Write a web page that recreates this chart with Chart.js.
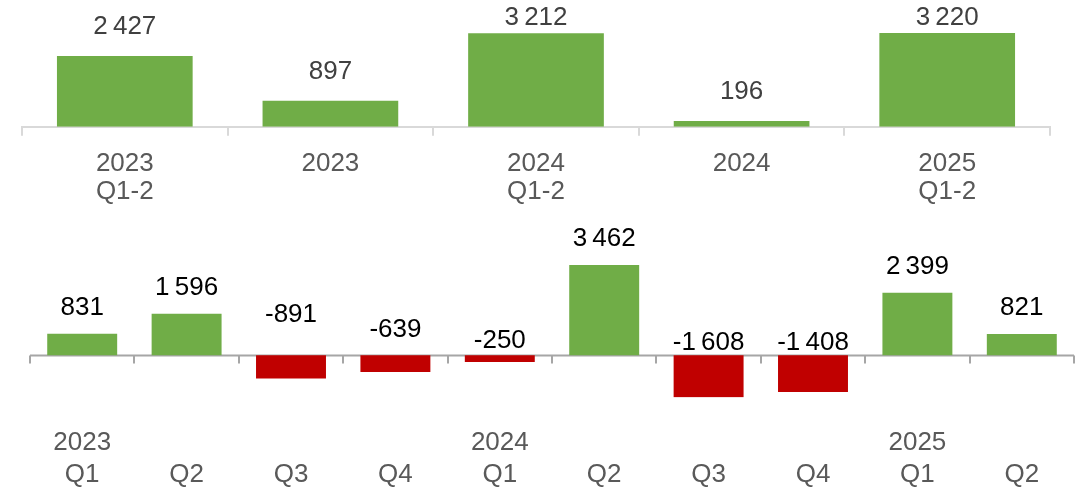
<!DOCTYPE html>
<html><head><meta charset="utf-8">
<script src="https://cdn.jsdelivr.net/npm/chart.js@4/dist/chart.umd.min.js"></script>
<style>
html,body{margin:0;padding:0;background:#fff;overflow:hidden;width:1079px;height:489px;}
#w1{position:absolute;left:0;top:0;width:1079px;height:220px;}
#w2{position:absolute;left:0;top:215px;width:1079px;height:297px;}
</style></head><body>
<div id="w1"><canvas id="c1"></canvas></div>
<div id="w2"><canvas id="c2"></canvas></div>
<script>
// ---- data ----
const topCategories = [["2023","Q1-2"],["2023"],["2024","Q1-2"],["2024"],["2025","Q1-2"]];
const topValues = [2427, 897, 3212, 196, 3220];
const qCategories = [["2023","Q1"],["","Q2"],["","Q3"],["","Q4"],["2024","Q1"],["","Q2"],["","Q3"],["","Q4"],["2025","Q1"],["","Q2"]];
const qValues = [831, 1596, -891, -639, -250, 3462, -1608, -1408, 2399, 821];

// ---- style ----
const GREEN = '#70AD47', RED = '#C00000';
const FONT = "'Liberation Sans', Arial, sans-serif";
const negLabelOffsets = [0,0,41,26,15,0,13,13,0,0];

function fmt(v){
  const s = Math.abs(v).toString().replace(/\B(?=(\d{3})+(?!\d))/g, '\u2009');
  return (v<0?'-':'') + s;
}

const labelPlugin = {
  id:'vals',
  afterDatasetsDraw(chart, args, opts){
    const ctx = chart.ctx;
    const meta = chart.getDatasetMeta(0);
    const ys = chart.scales.y;
    const zero = ys.getPixelForValue(0);
    ctx.save();
    ctx.font = '26px ' + FONT;
    ctx.fillStyle = opts.color;
    ctx.textAlign = 'center';
    ctx.textBaseline = 'middle';
    meta.data.forEach((bar, i) => {
      const v = chart.data.datasets[0].data[i];
      let y;
      if (v >= 0) y = Math.max(bar.y - opts.gap, opts.minY);
      else y = zero - opts.negOffsets[i];
      ctx.fillText(fmt(v), bar.x, y);
    });
    ctx.restore();
  }
};

const zeroAxisPlugin = {
  id:'zeroAxis',
  beforeDatasetsDraw(chart, args, opts){
    if (!opts.enabled) return;
    const ctx = chart.ctx, xs = chart.scales.x, ys = chart.scales.y;
    const zero = Math.round(ys.getPixelForValue(0)) + 0.5;
    ctx.save();
    ctx.strokeStyle = opts.color;
    ctx.lineWidth = 2;
    ctx.beginPath();
    ctx.moveTo(xs.left, zero); ctx.lineTo(xs.right, zero);
    const n = chart.data.labels.length;
    for (let i = 0; i <= n; i++) {
      const x = Math.round(xs.getPixelForValue(i - 0.5)) ;
      ctx.moveTo(x, zero); ctx.lineTo(x, zero + 8);
    }
    ctx.stroke();
    ctx.restore();
  }
};

Chart.defaults.font.family = FONT;
Chart.defaults.animation = false;

new Chart(document.getElementById('c1'), {
  type:'bar',
  data:{labels: topCategories, datasets:[{data: topValues, backgroundColor: GREEN,
    categoryPercentage:1, barPercentage:0.66}]},
  options:{
    responsive:true, maintainAspectRatio:false,
    layout:{padding:{left:22, right:29, top:0, bottom:0}},
    plugins:{legend:{display:false}, tooltip:{enabled:false},
      vals:{color:'#404040', minY:18, gap:29, negOffsets:[]}, zeroAxis:{enabled:false}},
    scales:{
      x:{grid:{display:true, drawOnChartArea:false, drawTicks:true, tickLength:9, color:'#D9D9D9', lineWidth:2},
         border:{display:true, color:'#D9D9D9', width:2},
         ticks:{color:'#595959', font:{size:26, lineHeight:1.08}, padding:14, maxRotation:0, autoSkip:false}},
      y:{display:false, min:0, max:4350}
    }
  },
  plugins:[labelPlugin, zeroAxisPlugin]
});

new Chart(document.getElementById('c2'), {
  type:'bar',
  data:{labels: qCategories, datasets:[{data: qValues,
    backgroundColor: qValues.map(v => v < 0 ? RED : GREEN),
    categoryPercentage:1, barPercentage:0.67}]},
  options:{
    responsive:true, maintainAspectRatio:false,
    layout:{padding:{left:30, right:5, top:10, bottom:0}},
    plugins:{legend:{display:false}, tooltip:{enabled:false},
      vals:{color:'#000000', minY:-1000, gap:26, negOffsets:negLabelOffsets},
      zeroAxis:{enabled:true, color:'#A6A6A6'}},
    scales:{
      x:{grid:{display:false}, border:{display:false},
         ticks:{color:'#595959', font:{size:26, lineHeight:1.2}, padding:22, maxRotation:0, autoSkip:false}},
      y:{display:false, min:-1620, max:5000}
    }
  },
  plugins:[labelPlugin, zeroAxisPlugin]
});
</script>
</body></html>
